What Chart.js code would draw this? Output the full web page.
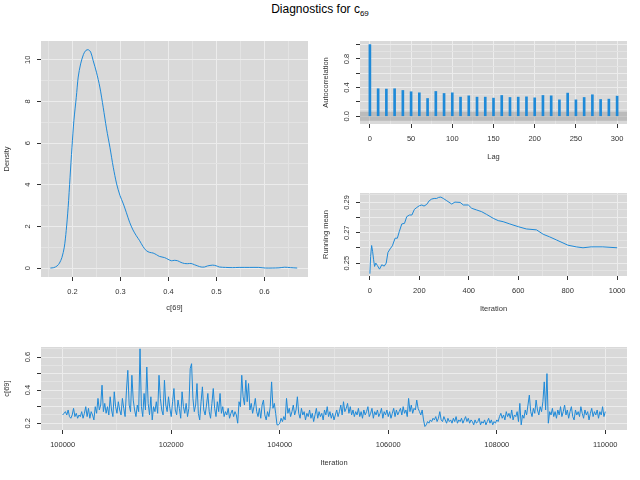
<!DOCTYPE html>
<html>
<head>
<meta charset="utf-8">
<script src="https://cdn.jsdelivr.net/npm/chart.js@4.4.1/dist/chart.umd.min.js"></script>
<style>
  html, body { margin: 0; padding: 0; background: #fff; }
  #page { position: relative; width: 640px; height: 480px; overflow: hidden; }
  #page canvas { position: absolute; }
  #title { position: absolute; left: 0; top: 2px; width: 640px; text-align: center;
           font: 12px "Liberation Sans", Arial, sans-serif; line-height: 14px; color: #000; }
  #title sub { font-size: 8px; vertical-align: -3px; line-height: 0; }
</style>
</head>
<body>
<div id="page">
  <div id="title">Diagnostics for c<sub>69</sub></div>
</div>
<script>
// density of c[69]
const densityX = [0.154, 0.161, 0.168, 0.173, 0.178, 0.183, 0.187, 0.191, 0.195, 0.199, 0.203, 0.208,
  0.212, 0.217, 0.223, 0.228, 0.233, 0.238, 0.243, 0.250, 0.257, 0.264, 0.271, 0.278, 0.285, 0.292,
  0.299, 0.306, 0.312, 0.319, 0.326, 0.333, 0.340, 0.347, 0.354, 0.361, 0.368, 0.375, 0.381, 0.392,
  0.399, 0.406, 0.412, 0.419, 0.426, 0.433, 0.440, 0.447, 0.454, 0.461, 0.468, 0.475, 0.481, 0.492,
  0.499, 0.506, 0.519, 0.533, 0.547, 0.568, 0.588, 0.602, 0.616, 0.630, 0.642, 0.654, 0.668];
const densityY = [0, 0.02, 0.1, 0.24, 0.5, 1.0, 1.8, 2.9, 4.36, 5.8, 7.08, 8.2,
  9.17, 9.8, 10.26, 10.45, 10.48, 10.37, 9.97, 9.4, 8.69, 7.72, 6.68, 5.8, 4.84, 4.04,
  3.48, 3.08, 2.68, 2.2, 1.83, 1.55, 1.31, 1.03, 0.83, 0.75, 0.72, 0.64, 0.56, 0.5,
  0.42, 0.35, 0.37, 0.35, 0.27, 0.22, 0.21, 0.22, 0.16, 0.1, 0.05, 0.05, 0.1, 0.14,
  0.11, 0.05, 0.03, 0.02, 0.03, 0.03, 0.03, 0.0, 0.0, 0.01, 0.04, 0.02, 0.0];

// autocorrelation
const acfLags = [0, 10, 20, 30, 40, 50, 60, 70, 80, 90, 100, 110, 120, 130, 140, 150,
  160, 170, 180, 190, 200, 210, 220, 230, 240, 250, 260, 270, 280, 290, 300];
const acfValues = [1.0, 0.384, 0.379, 0.384, 0.36, 0.342, 0.327, 0.248, 0.346, 0.318, 0.327, 0.267,
  0.285, 0.267, 0.267, 0.253, 0.29, 0.262, 0.267, 0.271, 0.257, 0.29, 0.285, 0.229, 0.323, 0.229,
  0.262, 0.3, 0.234, 0.239, 0.281];
const acfBand = 0.063;

// running mean
const runIter = [0, 3, 7, 11, 15, 19, 24, 30, 39, 48, 58, 66, 73, 82, 91, 102, 111, 119, 129, 140,
  149, 160, 170, 180, 190, 200, 210, 219, 230, 240, 250, 260, 270, 278, 287, 297, 311, 331, 344, 365,
  378, 398, 412, 432, 452, 472, 499, 519, 539, 566, 600, 633, 674, 701, 727, 754, 781, 801, 835, 862,
  895, 942, 1000];
const runMean = [0.243, 0.2544, 0.2616, 0.2577, 0.2522, 0.2478, 0.25, 0.2485, 0.246, 0.2489, 0.248, 0.25,
  0.257, 0.2594, 0.2614, 0.2664, 0.2664, 0.2708, 0.2758, 0.2762, 0.2806, 0.2817, 0.2817, 0.2854, 0.2867,
  0.2878, 0.2883, 0.2876, 0.2887, 0.2911, 0.2922, 0.2926, 0.2926, 0.2933, 0.2935, 0.2926, 0.2911, 0.2889,
  0.2902, 0.29, 0.2883, 0.2883, 0.2861, 0.285, 0.2839, 0.2821, 0.2795, 0.278, 0.2773, 0.2758, 0.274,
  0.2725, 0.2719, 0.269, 0.2673, 0.2653, 0.2633, 0.2618, 0.2607, 0.2601, 0.2607, 0.2607, 0.2601];

// trace, one value every 25 iterations from 100000
const traceStart = 100000;
const traceStep = 25;
const traceValues = [
  0.25, 0.26, 0.27, 0.25, 0.28, 0.24, 0.23, 0.25, 0.29, 0.24, 0.26, 0.23, 0.25, 0.24, 0.27, 0.23, 0.26, 0.30, 0.24, 0.29,
  0.23, 0.27, 0.25, 0.22, 0.30, 0.26, 0.35, 0.28, 0.31, 0.43, 0.27, 0.32, 0.26, 0.30, 0.25, 0.36, 0.28, 0.24, 0.39, 0.30,
  0.26, 0.33, 0.28, 0.25, 0.35, 0.29, 0.24, 0.40, 0.52, 0.31, 0.27, 0.49, 0.34, 0.28, 0.24, 0.31, 0.27, 0.65, 0.30, 0.24,
  0.38, 0.28, 0.54, 0.32, 0.25, 0.36, 0.22, 0.30, 0.27, 0.33, 0.26, 0.49, 0.35, 0.28, 0.25, 0.46, 0.31, 0.27, 0.36, 0.29,
  0.24, 0.33, 0.41, 0.28, 0.25, 0.34, 0.29, 0.23, 0.39, 0.30, 0.26, 0.32, 0.24, 0.29, 0.53, 0.56, 0.35, 0.27, 0.31, 0.44,
  0.26, 0.22, 0.33, 0.42, 0.28, 0.25, 0.31, 0.38, 0.27, 0.23, 0.32, 0.41, 0.29, 0.24, 0.33, 0.27, 0.38, 0.26, 0.30, 0.24,
  0.27, 0.25, 0.29, 0.23, 0.26, 0.28, 0.24, 0.27, 0.25, 0.20, 0.33, 0.30, 0.49, 0.36, 0.31, 0.46, 0.33, 0.44, 0.28, 0.32,
  0.26, 0.30, 0.35, 0.27, 0.24, 0.29, 0.23, 0.31, 0.34, 0.25, 0.22, 0.27, 0.24, 0.30, 0.45, 0.29, 0.32, 0.26, 0.19, 0.19,
  0.20, 0.23, 0.21, 0.24, 0.22, 0.35, 0.26, 0.29, 0.24, 0.27, 0.31, 0.25, 0.28, 0.36, 0.26, 0.23, 0.29, 0.25, 0.27, 0.22,
  0.26, 0.24, 0.28, 0.23, 0.26, 0.21, 0.25, 0.29, 0.23, 0.27, 0.24, 0.26, 0.22, 0.28, 0.25, 0.30, 0.24, 0.27, 0.23, 0.26,
  0.22, 0.25, 0.28, 0.24, 0.27, 0.31, 0.25, 0.33, 0.27, 0.29, 0.32, 0.26, 0.30, 0.25, 0.28, 0.24, 0.27, 0.25, 0.29, 0.24,
  0.27, 0.23, 0.28, 0.25, 0.27, 0.30, 0.24, 0.26, 0.29, 0.23, 0.27, 0.25, 0.28, 0.24, 0.26, 0.29, 0.23, 0.27, 0.25, 0.28,
  0.24, 0.27, 0.23, 0.26, 0.29, 0.24, 0.28, 0.25, 0.27, 0.29, 0.25, 0.30, 0.26, 0.28, 0.24, 0.35, 0.27, 0.31, 0.26, 0.29,
  0.28, 0.34, 0.29, 0.27, 0.25, 0.28, 0.22, 0.18, 0.19, 0.21, 0.20, 0.22, 0.21, 0.23, 0.22, 0.24, 0.21, 0.23, 0.27, 0.22,
  0.21, 0.24, 0.22, 0.20, 0.23, 0.21, 0.22, 0.20, 0.23, 0.21, 0.24, 0.20, 0.22, 0.21, 0.23, 0.20, 0.22, 0.24, 0.21, 0.23,
  0.20, 0.22, 0.21, 0.19, 0.22, 0.20, 0.21, 0.23, 0.19, 0.21, 0.20, 0.22, 0.19, 0.21, 0.23, 0.20, 0.22, 0.19, 0.21, 0.20,
  0.22, 0.21, 0.24, 0.26, 0.23, 0.25, 0.22, 0.27, 0.24, 0.26, 0.23, 0.28, 0.22, 0.25, 0.24, 0.27, 0.21, 0.32, 0.19, 0.25,
  0.23, 0.28, 0.25, 0.31, 0.37, 0.27, 0.24, 0.29, 0.26, 0.34, 0.28, 0.25, 0.30, 0.27, 0.33, 0.45, 0.28, 0.50, 0.20, 0.27,
  0.25, 0.29, 0.24, 0.27, 0.23, 0.28, 0.25, 0.30, 0.24, 0.27, 0.31, 0.25, 0.28, 0.23, 0.27, 0.30, 0.24, 0.22, 0.28, 0.25,
  0.27, 0.24, 0.30, 0.26, 0.23, 0.28, 0.25, 0.27, 0.22, 0.26, 0.29, 0.24, 0.27, 0.25, 0.28, 0.23, 0.27, 0.25, 0.30, 0.24,
  0.27];

// tick / grid positions
const densityXGrid = [0.15, 0.2, 0.25, 0.3, 0.35, 0.4, 0.45, 0.5, 0.55, 0.6, 0.65];
const densityXTicks = [0.2, 0.3, 0.4, 0.5, 0.6];
const densityYGrid = [0, 1, 2, 3, 4, 5, 6, 7, 8, 9, 10];
const densityYTicks = [0, 2, 4, 6, 8, 10];
const acfXGrid = [0, 25, 50, 75, 100, 125, 150, 175, 200, 225, 250, 275, 300];
const acfXTicks = [0, 50, 100, 150, 200, 250, 300];
const acfYGrid = [0, 0.1, 0.2, 0.3, 0.4, 0.5, 0.6, 0.7, 0.8, 0.9, 1.0];
const acfYTicks = [0, 0.2, 0.4, 0.6, 0.8, 1.0];
const acfYLabels = [0, 0.4, 0.8];
const runXGrid = [0, 100, 200, 300, 400, 500, 600, 700, 800, 900, 1000];
const runXTicks = [0, 200, 400, 600, 800, 1000];
const runYGrid = [0.245, 0.25, 0.255, 0.26, 0.265, 0.27, 0.275, 0.28, 0.285, 0.29, 0.295];
const runYTicks = [0.25, 0.26, 0.27, 0.28, 0.29];
const runYLabels = [0.25, 0.27, 0.29];
const traceXGrid = [100000, 101000, 102000, 103000, 104000, 105000, 106000, 107000, 108000, 109000, 110000];
const traceXTicks = [100000, 102000, 104000, 106000, 108000, 110000];
const traceYGrid = [0.2, 0.25, 0.3, 0.35, 0.4, 0.45, 0.5, 0.55, 0.6, 0.65];
const traceYTicks = [0.2, 0.3, 0.4, 0.5, 0.6];
const traceYLabels = [0.2, 0.4, 0.6];

const blue = '#1f8ad8';
const ink = '#333333';
const tickFont = { family: '"Liberation Sans", Arial, sans-serif', size: 7.5 };

const measureCtx = document.createElement('canvas').getContext('2d');
function textWidth(s) {
    measureCtx.font = '7.5px "Liberation Sans"';
    return measureCtx.measureText(s).width;
}
function near(list, v) {
    return list.some(t => Math.abs(t - v) < 1e-9);
}

function axis(cfg, isY) {
    const labels = cfg.labels || cfg.marks;
    const widest = Math.max(...labels.map(v => textWidth(v.toFixed(cfg.dec))));
    return {
        type: 'linear',
        min: cfg.min,
        max: cfg.max,
        offset: false,
        afterBuildTicks: s => { s.ticks = cfg.grid.map(v => ({ value: v })); },
        afterFit: s => { if (isY) s.width = 41; else s.height = 40; },
        border: { display: false },
        grid: {
            offset: false,
            color: c => near(cfg.marks, c.tick.value) ? '#ececec' : '#e3e3e3',
            lineWidth: 1,
            tickLength: 4,
            tickWidth: 1,
            tickColor: c => near(cfg.marks, c.tick.value) ? ink : 'rgba(0,0,0,0)'
        },
        ticks: {
            autoSkip: false,
            font: tickFont,
            color: ink,
            padding: isY ? 9.5 - widest / 2 : 6.6,
            minRotation: isY ? 90 : 0,
            maxRotation: isY ? 90 : 0,
            crossAlign: isY ? 'center' : 'near',
            callback: v => near(labels, v) ? v.toFixed(cfg.dec) : ''
        },
        title: {
            display: true,
            text: cfg.title,
            font: tickFont,
            color: ink,
            padding: isY ? { top: 2.5, bottom: 0 } : { top: 0, bottom: cfg.titlePad }
        }
    };
}

const panelBg = {
    id: 'panelBg',
    beforeDraw(chart) {
        const { ctx, chartArea: a } = chart;
        ctx.save();
        ctx.fillStyle = '#d9d9d9';
        ctx.fillRect(a.left, a.top, a.right - a.left, a.bottom - a.top);
        ctx.restore();
    }
};

const acfBandPlugin = {
    id: 'acfBand',
    beforeDatasetsDraw(chart) {
        const { ctx, chartArea: a, scales } = chart;
        const y1 = scales.y.getPixelForValue(acfBand);
        const y2 = scales.y.getPixelForValue(-acfBand);
        ctx.save();
        ctx.fillStyle = 'rgba(150,150,150,0.45)';
        ctx.fillRect(a.left, y1, a.right - a.left, y2 - y1);
        ctx.restore();
    }
};

// area = plotting region in page pixels: [left, top, right, bottom]
function makePanel(area, type, datasets, xCfg, yCfg, extraPlugins) {
    const [L, T, R, B] = area;
    const cv = document.createElement('canvas');
    cv.width = Math.round(R + 10 - (L - 41));
    cv.height = Math.round(B + 40 - (T - 10));
    cv.style.left = (L - 41) + 'px';
    cv.style.top = (T - 10) + 'px';
    document.getElementById('page').appendChild(cv);
    return new Chart(cv, {
        type: type,
        data: { datasets: datasets },
        options: {
            responsive: false,
            animation: false,
            devicePixelRatio: 1,
            layout: { padding: { left: 0, top: 10, right: cv.width - (R - L) - 41 - 0, bottom: 0 } },
            plugins: { legend: { display: false }, tooltip: { enabled: false } },
            scales: { x: axis(xCfg, false), y: axis(yCfg, true) }
        },
        plugins: [panelBg].concat(extraPlugins || [])
    });
}

makePanel([41, 41, 308, 277], 'line', [{
    data: densityX.map((x, i) => ({ x: x, y: densityY[i] })),
    borderColor: blue, borderWidth: 1, pointRadius: 0, tension: 0.3
}], { min: 0.1345, max: 0.6905, grid: densityXGrid, marks: densityXTicks, dec: 1, title: 'c[69]', titlePad: 5 },
   { min: -0.43, max: 10.9, grid: densityYGrid, marks: densityYTicks, dec: 0, title: 'Density' });

makePanel([360, 41, 627, 124], 'bar', [{
    data: acfLags.map((x, i) => ({ x: x, y: acfValues[i] })),
    backgroundColor: blue, borderWidth: 0, barThickness: 2
}], { min: -12, max: 312, grid: acfXGrid, marks: acfXTicks, dec: 0, title: 'Lag', titlePad: 2.5 },
   { min: -0.108, max: 1.05, grid: acfYGrid, marks: acfYTicks, labels: acfYLabels, dec: 1, title: 'Autocorrelation' },
   [acfBandPlugin]);

makePanel([360, 193, 627, 276], 'line', [{
    data: runIter.map((x, i) => ({ x: x, y: runMean[i] })),
    borderColor: blue, borderWidth: 1, pointRadius: 0, tension: 0
}], { min: -40, max: 1040, grid: runXGrid, marks: runXTicks, dec: 0, title: 'Iteration', titlePad: 2.5 },
   { min: 0.2415, max: 0.2962, grid: runYGrid, marks: runYTicks, labels: runYLabels, dec: 2, title: 'Running mean' });

makePanel([41, 347, 627, 430], 'line', [{
    data: traceValues.map((y, i) => ({ x: traceStart + i * traceStep, y: y })),
    borderColor: blue, borderWidth: 1, pointRadius: 0, tension: 0
}], { min: 99600, max: 110400, grid: traceXGrid, marks: traceXTicks, dec: 0, title: 'Iteration', titlePad: 2.5 },
   { min: 0.159, max: 0.661, grid: traceYGrid, marks: traceYTicks, labels: traceYLabels, dec: 1, title: 'c[69]' });
</script>
</body>
</html>
